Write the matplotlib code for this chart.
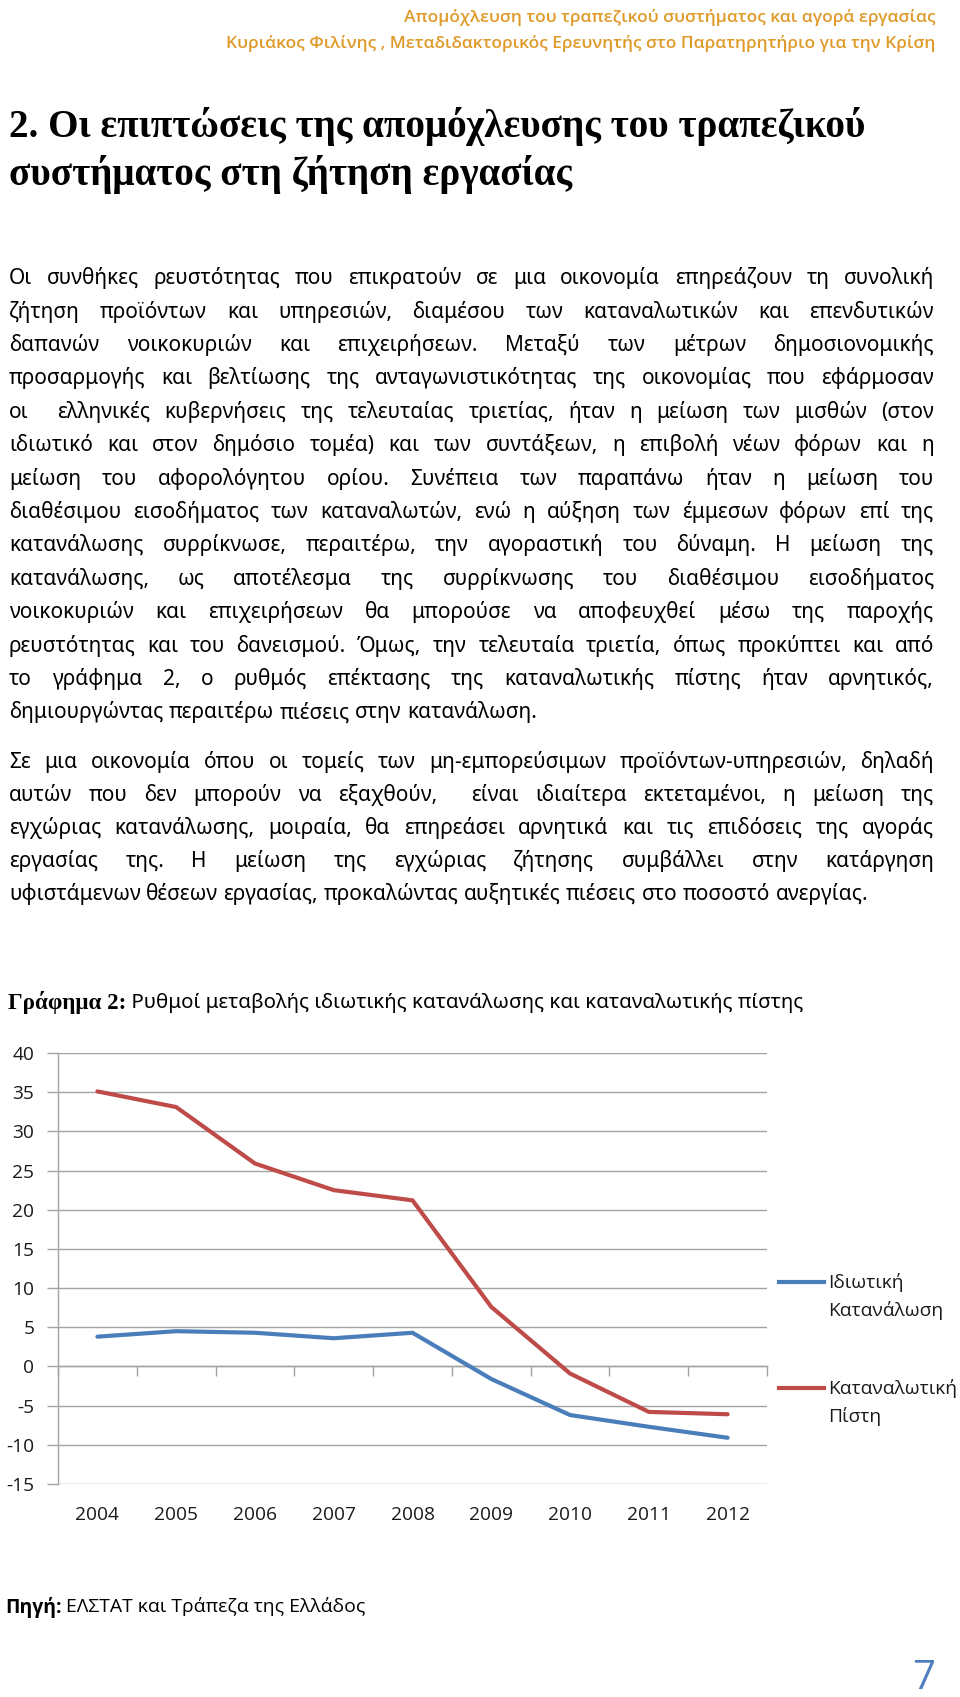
import numpy as np
import matplotlib
matplotlib.use("Agg")
import matplotlib.pyplot as plt
from matplotlib.lines import Line2D

# ---------------- data ----------------
years = ["2004", "2005", "2006", "2007", "2008", "2009", "2010", "2011", "2012"]
private_consumption = [3.8, 4.5, 4.3, 3.6, 4.3, -1.6, -6.2, -7.7, -9.1]
consumer_credit = [35.1, 33.1, 25.9, 22.5, 21.2, 7.6, -0.9, -5.8, -6.1]
yticks = list(range(-15, 45, 5))
series_names = [["Ιδιωτική", "Κατανάλωση"], ["Καταναλωτική", "Πίστη"]]

header_lines = [
    "Απομόχλευση του τραπεζικού συστήματος και αγορά εργασίας",
    "Κυριάκος Φιλίνης , Μεταδιδακτορικός Ερευνητής στο Παρατηρητήριο για την Κρίση",
]
title_lines = [
    "2. Οι επιπτώσεις της απομόχλευσης του τραπεζικού",
    "συστήματος στη ζήτηση εργασίας",
]
para1 = [
    "Οι συνθήκες ρευστότητας που επικρατούν σε μια οικονομία επηρεάζουν τη συνολική",
    "ζήτηση προϊόντων και υπηρεσιών, διαμέσου των καταναλωτικών και επενδυτικών",
    "δαπανών νοικοκυριών και επιχειρήσεων. Μεταξύ των μέτρων δημοσιονομικής",
    "προσαρμογής και βελτίωσης της ανταγωνιστικότητας της οικονομίας που εφάρμοσαν",
    "οι  ελληνικές κυβερνήσεις της τελευταίας τριετίας, ήταν η μείωση των μισθών (στον",
    "ιδιωτικό και στον δημόσιο τομέα) και των συντάξεων, η επιβολή νέων φόρων και η",
    "μείωση του αφορολόγητου ορίου. Συνέπεια των παραπάνω ήταν η μείωση του",
    "διαθέσιμου εισοδήματος των καταναλωτών, ενώ η αύξηση των έμμεσων φόρων επί της",
    "κατανάλωσης συρρίκνωσε, περαιτέρω, την αγοραστική του δύναμη. Η μείωση της",
    "κατανάλωσης, ως αποτέλεσμα της συρρίκνωσης του διαθέσιμου εισοδήματος",
    "νοικοκυριών και επιχειρήσεων θα μπορούσε να αποφευχθεί μέσω της παροχής",
    "ρευστότητας και του δανεισμού. Όμως, την τελευταία τριετία, όπως προκύπτει και από",
    "το γράφημα 2, ο ρυθμός επέκτασης της καταναλωτικής πίστης ήταν αρνητικός,",
    "δημιουργώντας περαιτέρω πιέσεις στην κατανάλωση.",
]
para2 = [
    "Σε μια οικονομία όπου οι τομείς των μη-εμπορεύσιμων προϊόντων-υπηρεσιών, δηλαδή",
    "αυτών που δεν μπορούν να εξαχθούν,  είναι ιδιαίτερα εκτεταμένοι, η μείωση της",
    "εγχώριας κατανάλωσης, μοιραία, θα επηρεάσει αρνητικά και τις επιδόσεις της αγοράς",
    "εργασίας της. Η μείωση της εγχώριας ζήτησης συμβάλλει στην κατάργηση",
    "υφιστάμενων θέσεων εργασίας, προκαλώντας αυξητικές πιέσεις στο ποσοστό ανεργίας.",
]
chart_title_bold = "Γράφημα 2:"
chart_title_rest = " Ρυθμοί μεταβολής ιδιωτικής κατανάλωσης και καταναλωτικής πίστης"
source_bold = "Πηγή:"
source_rest = " ΕΛΣΤΑΤ και Τράπεζα της Ελλάδος"
page_number = "7"

# ---------------- styling ----------------
W, H = 960, 1697
BLUE = "#4A7EBB"
RED = "#BE4B48"
GRID = "#A3A3A3"
GOLD = "#E09A2A"
BODY_FONT = ["Noto Sans", "DejaVu Sans"]
TITLE_FONT = ["Liberation Serif", "DejaVu Serif"]
CHART_FONT = ["Open Sans", "DejaVu Sans"]

fig = plt.figure(figsize=(W / 100, H / 100), dpi=100)
fig.patch.set_facecolor("white")
renderer = fig.canvas.get_renderer()


def fx(px):
    return px / W


def fy(py):
    return 1 - py / H


def text_w(s, size, **kw):
    if not s:
        return 0.0
    t = fig.text(0, 0, s, fontsize=size, **kw)
    w = t.get_window_extent(renderer=renderer).width
    t.remove()
    return w


def fit_size(s, target, **kw):
    base = 20.0
    return base * target / text_w(s, base, **kw)


X0, X1 = 9, 934


def draw_par(lines, y_first, spacing, size, family):
    space = text_w("a a", size, family=family) - text_w("aa", size, family=family)
    px = size * 100 / 72
    for i, line in enumerate(lines):
        words = line.split(" ")
        widths = [text_w(w, size, family=family) for w in words]
        last = i == len(lines) - 1
        if last or len(words) == 1:
            gap = space
        else:
            gap = (X1 - X0 - sum(widths)) / (len(words) - 1)
        baseline = y_first + i * spacing + 0.30 * px
        x = X0
        for w, wd in zip(words, widths):
            if w:
                fig.text(fx(x), fy(baseline), w, fontsize=size, family=family,
                         color="black", ha="left", va="baseline")
            x += wd + gap


# ---------------- header ----------------
hs = min(fit_size(header_lines[0], 590, family=CHART_FONT, weight="semibold"),
         fit_size(header_lines[1], 711, family=CHART_FONT, weight="semibold"))
for s, y in zip(header_lines, [18, 43]):
    fig.text(fx(935), fy(y), s, fontsize=hs, family=CHART_FONT, weight="semibold",
             color=GOLD, ha="right", va="center")

# ---------------- section title ----------------
ts = fit_size(title_lines[0], 855, family=TITLE_FONT, weight="bold")
for s, y in zip(title_lines, [127, 174]):
    fig.text(fx(9), fy(y), s, fontsize=ts, family=TITLE_FONT, weight="bold",
             color="black", ha="left", va="center")

# ---------------- body paragraphs ----------------
all_lines = para1[:-1] + para2[:-1]
body_size = 15.0
for ln in all_lines:
    nat = text_w(ln, body_size, family=BODY_FONT)
    if nat > (X1 - X0) * 0.985:
        body_size = body_size * (X1 - X0) * 0.985 / nat
draw_par(para1, 278, 33.4, body_size, BODY_FONT)
draw_par(para2, 762, 33.0, body_size, BODY_FONT)

# ---------------- chart title ----------------
wb = text_w(chart_title_bold, 20, family=TITLE_FONT, weight="bold")
wr = text_w(chart_title_rest, 20, family=BODY_FONT)
cs = 20 * (804 - 8) / (wb + wr)
fig.text(fx(8), fy(1003), chart_title_bold, fontsize=cs * 1.1, family=TITLE_FONT,
         weight="bold", ha="left", va="center")
wb_px = text_w(chart_title_bold, cs * 1.1, family=TITLE_FONT, weight="bold")
cs2 = cs * (804 - 8 - wb_px) / (text_w(chart_title_rest, cs, family=BODY_FONT))
fig.text(fx(8 + wb_px), fy(1003), chart_title_rest, fontsize=cs2, family=BODY_FONT,
         ha="left", va="center")

# ---------------- chart ----------------
top, bottom, left, right = 1053, 1484, 58, 767
ax = fig.add_axes([fx(left), fy(bottom), (right - left) / W, (bottom - top) / H])
x = np.arange(len(years))
ax.plot(x, private_consumption, color=BLUE, lw=3.0, solid_joinstyle="round",
        solid_capstyle="round", zorder=3)
ax.plot(x, consumer_credit, color=RED, lw=3.0, solid_joinstyle="round",
        solid_capstyle="round", zorder=3)
ax.set_xlim(-0.5, len(years) - 0.5)
ax.set_ylim(min(yticks), max(yticks))
ax.set_yticks(yticks)
ax.set_yticklabels([str(v) for v in yticks])
ax.set_xticks(x)
ax.set_xticklabels(years)
ax.grid(axis="y", color=GRID, lw=1.0)
ax.set_axisbelow(True)
for sp in ["top", "right", "bottom"]:
    ax.spines[sp].set_visible(False)
ax.spines["left"].set_color(GRID)
ax.spines["left"].set_linewidth(1.0)
ax.tick_params(axis="y", direction="out", length=8, width=1, color=GRID, pad=9,
               labelsize=13.8, labelcolor="#1a1a1a")
ax.tick_params(axis="x", length=0, pad=15.5, labelsize=13.8, labelcolor="#1a1a1a")
for lab in ax.get_xticklabels() + ax.get_yticklabels():
    lab.set_family(CHART_FONT)

zero_pos = (0 - min(yticks)) / (max(yticks) - min(yticks))
sec = ax.secondary_xaxis(zero_pos)
sec.set_xticks(np.arange(-0.5, len(years) + 0.5, 1.0))
sec.tick_params(axis="x", direction="out", length=7, width=1, color=GRID,
                labelbottom=False, labeltop=False)
for sp in sec.spines.values():
    sp.set_color(GRID)
    sp.set_linewidth(1.0)

# legend (manual, to keep key on first line as in reference)
for names, col, y in zip(series_names, [BLUE, RED], [1282, 1388]):
    fig.add_artist(Line2D([fx(779), fx(824)], [fy(y), fy(y)], color=col, lw=3.0,
                          transform=fig.transFigure))
    fig.text(fx(828), fy(y), names[0], fontsize=13.8, family=CHART_FONT,
             color="#1a1a1a", ha="left", va="center")
    fig.text(fx(828), fy(y + 28.5), names[1], fontsize=13.8, family=CHART_FONT,
             color="#1a1a1a", ha="left", va="center")

# ---------------- source & page number ----------------
wb = text_w(source_bold, 20, family=CHART_FONT, weight="bold")
wr = text_w(source_rest, 20, family=CHART_FONT)
ss = 20 * (366 - 5) / (wb + wr)
fig.text(fx(5), fy(1607), source_bold, fontsize=ss, family=CHART_FONT,
         weight="bold", ha="left", va="center")
wb_px = text_w(source_bold, ss, family=CHART_FONT, weight="bold")
fig.text(fx(5 + wb_px), fy(1607), source_rest, fontsize=ss, family=CHART_FONT,
         ha="left", va="center")

fig.text(fx(924), fy(1679), page_number, fontsize=29, family=CHART_FONT,
         color="#4F7EBF", ha="center", va="center")

fig.savefig("out.png", dpi=100, facecolor="white")
